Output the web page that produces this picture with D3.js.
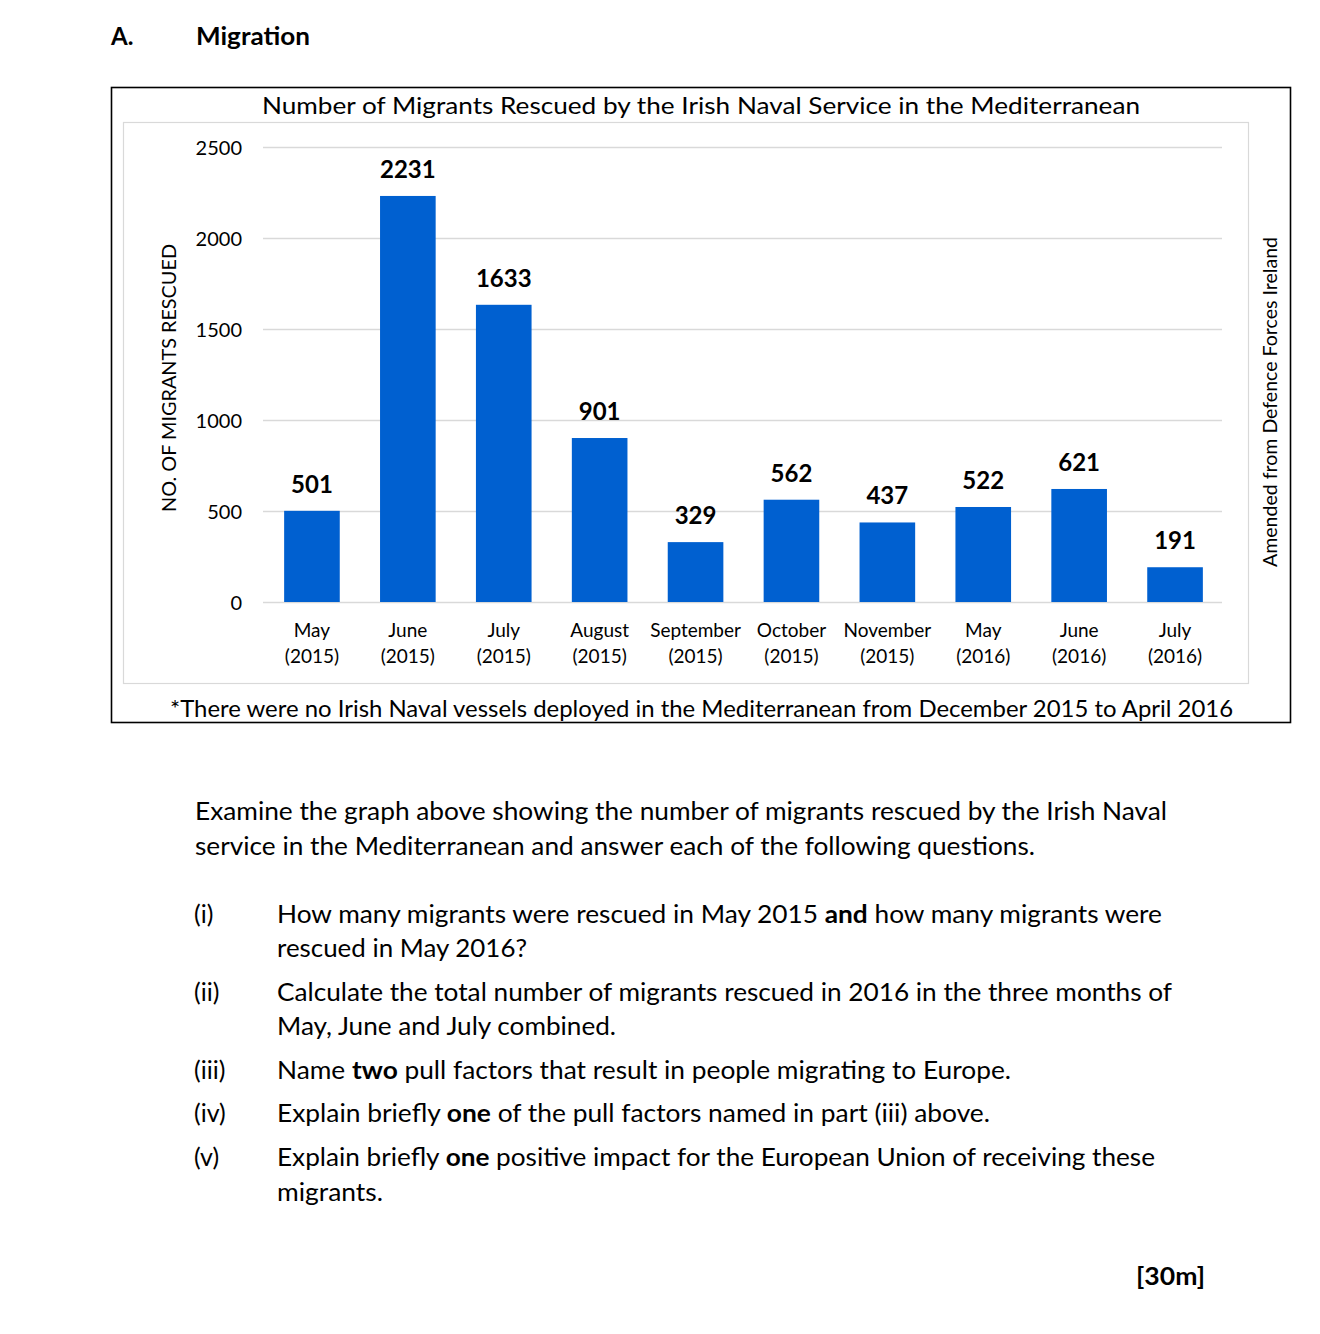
<!DOCTYPE html>
<html>
<head>
<meta charset="utf-8">
<script src="https://cdn.jsdelivr.net/npm/d3@7"></script>
<style>
  html, body { margin: 0; padding: 0; background: #fff; }
  svg text { font-family: Lato, "Open Sans", sans-serif; fill: #000; }
</style>
</head>
<body>
<svg id="chart" width="1320" height="1334"></svg>
<script>
const months = ["May", "June", "July", "August", "September", "October", "November", "May", "June", "July"];
const years = ["2015", "2015", "2015", "2015", "2015", "2015", "2015", "2016", "2016", "2016"];
const rescued = [501, 2231, 1633, 901, 329, 562, 437, 522, 621, 191];
const yTicks = [0, 500, 1000, 1500, 2000, 2500];
const categories = months.map((m, i) => m + " (" + years[i] + ")");

const svg = d3.select("#chart");

function fit(sel, w) { sel.attr("textLength", w).attr("lengthAdjust", "spacingAndGlyphs"); return sel; }

// Heading
svg.append("text").attr("x", 111).attr("y", 45).attr("font-size", 24).attr("font-weight", "bold").text("A.");
fit(svg.append("text").attr("x", 196).attr("y", 45).attr("font-size", 24).attr("font-weight", "bold").text("Migration"), 114);

// Boxes
svg.append("rect").attr("x", 111.5).attr("y", 87.5).attr("width", 1179).attr("height", 635)
  .attr("fill", "none").attr("stroke", "#000").attr("stroke-width", 1.6);
svg.append("rect").attr("x", 123.5).attr("y", 122.5).attr("width", 1125).attr("height", 561)
  .attr("fill", "none").attr("stroke", "#d9d9d9").attr("stroke-width", 1.2);

// Title
fit(svg.append("text").attr("x", 262).attr("y", 114).attr("font-size", 24)
  .text("Number of Migrants Rescued by the Irish Naval Service in the Mediterranean"), 878);

// Scales
const x = d3.scaleBand().domain(categories).range([264, 1223]).paddingInner(0.42).paddingOuter(0.21);
const y = d3.scaleLinear().domain([0, 2500]).range([602, 147]);

// Gridlines
svg.append("g").selectAll("line").data(yTicks).join("line")
  .attr("x1", 263).attr("x2", 1222)
  .attr("y1", d => y(d) + 0.5).attr("y2", d => y(d) + 0.5)
  .attr("stroke", "#d9d9d9").attr("stroke-width", 1.3);

// Y axis
const yAxis = d3.axisLeft(y).tickValues(yTicks).tickSize(0).tickPadding(0).tickFormat(d3.format("d"));
const yg = svg.append("g").attr("transform", "translate(242,0)").call(yAxis);
yg.select(".domain").remove();
yg.selectAll("text").attr("font-size", 20).attr("font-family", "Lato, sans-serif").attr("fill", "#000").attr("dy", "0.35em");

// Bars
svg.append("g").selectAll("rect").data(rescued).join("rect")
  .attr("x", (d, i) => x(categories[i]))
  .attr("width", x.bandwidth())
  .attr("y", d => y(d))
  .attr("height", d => y(0) - y(d))
  .attr("fill", "#0060d0");

// Value labels
svg.append("g").selectAll("text").data(rescued).join("text")
  .attr("x", (d, i) => x(categories[i]) + x.bandwidth() / 2)
  .attr("y", d => y(d) - 18)
  .attr("text-anchor", "middle").attr("font-size", 24).attr("font-weight", "bold")
  .text(d => d);

// X axis labels (two lines)
const xl = svg.append("g").selectAll("text").data(categories).join("text")
  .attr("text-anchor", "middle").attr("font-size", 19);
xl.append("tspan").attr("x", d => x(d) + x.bandwidth() / 2).attr("y", 637).text((d, i) => months[i]);
xl.append("tspan").attr("x", d => x(d) + x.bandwidth() / 2).attr("y", 663).text((d, i) => "(" + years[i] + ")");

// Y axis title
fit(svg.append("text").attr("transform", "translate(176,378) rotate(-90)").attr("text-anchor", "middle")
  .attr("font-size", 20).text("NO. OF MIGRANTS RESCUED"), 268);

// Source
fit(svg.append("text").attr("transform", "translate(1277,402) rotate(-90)").attr("text-anchor", "middle")
  .attr("font-size", 19).text("Amended from Defence Forces Ireland"), 330);

// Footnote
fit(svg.append("text").attr("x", 170).attr("y", 717).attr("font-size", 23)
  .text("*There were no Irish Naval vessels deployed in the Mediterranean from December 2015 to April 2016"), 1063);

// Paragraph
fit(svg.append("text").attr("x", 195).attr("y", 820).attr("font-size", 25)
  .text("Examine the graph above showing the number of migrants rescued by the Irish Naval"), 972);
fit(svg.append("text").attr("x", 195).attr("y", 855).attr("font-size", 25)
  .text("service in the Mediterranean and answer each of the following questions."), 840);

// Questions
const qNums = ["(i)", "", "(ii)", "", "(iii)", "(iv)", "(v)", ""];
const qLines = [
  [["How many migrants were rescued in May 2015 ", false], ["and", true], [" how many migrants were", false]],
  [["rescued in May 2016?", false]],
  [["Calculate the total number of migrants rescued in 2016 in the three months of", false]],
  [["May, June and July combined.", false]],
  [["Name ", false], ["two", true], [" pull factors that result in people migrating to Europe.", false]],
  [["Explain briefly ", false], ["one", true], [" of the pull factors named in part (iii) above.", false]],
  [["Explain briefly ", false], ["one", true], [" positive impact for the European Union of receiving these", false]],
  [["migrants.", false]]
];
const qBase = [923, 957, 1001, 1035, 1079, 1122, 1166, 1201];
const qWidth = [885, 250, 895, 339, 734, 713, 878, 106];

qLines.forEach((parts, i) => {
  if (qNums[i]) svg.append("text").attr("x", 194).attr("y", qBase[i]).attr("font-size", 25).text(qNums[i]);
  const t = svg.append("text").attr("x", 277).attr("y", qBase[i]).attr("font-size", 25);
  parts.forEach(p => t.append("tspan").attr("font-weight", p[1] ? "bold" : "normal").text(p[0]));
  fit(t, qWidth[i]);
});

// Marks
fit(svg.append("text").attr("x", 1136).attr("y", 1285).attr("font-size", 24).attr("font-weight", "bold").text("[30m]"), 69);
</script>
</body>
</html>
